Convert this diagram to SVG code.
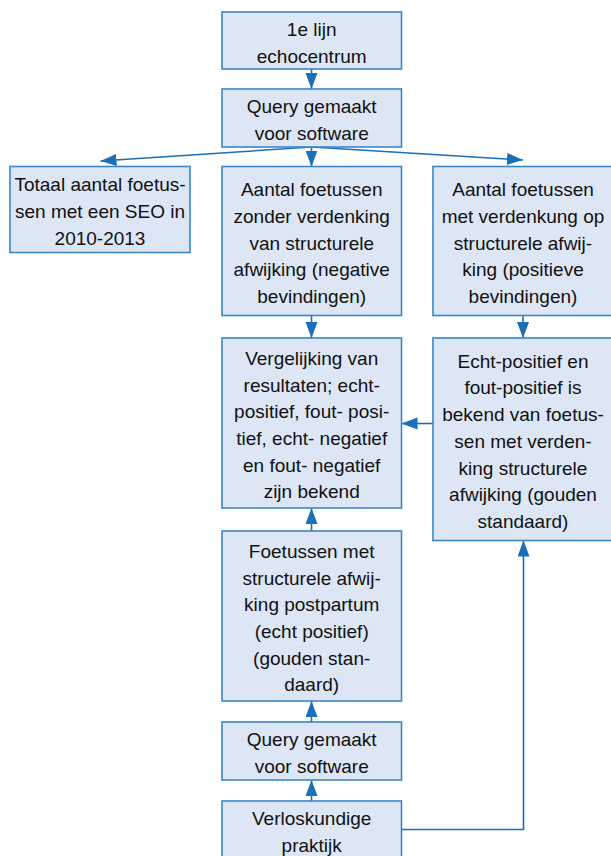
<svg xmlns="http://www.w3.org/2000/svg" width="611" height="856" viewBox="0 0 611 856">
<style>
.box{fill:#dce6f5;stroke:#3a86c8;stroke-width:1.6}
.t{font-family:"Liberation Sans",Arial,sans-serif;font-size:19px;fill:#111111;text-anchor:middle}
.c{fill:none;stroke:#1b6fb7;stroke-width:1.6}
</style>
<defs>
<marker id="ah" markerUnits="userSpaceOnUse" markerWidth="17" markerHeight="13" refX="16" refY="6" orient="auto">
<path d="M0,0 L16,6 L0,12 Z" fill="#1b6fb7"/>
</marker>
</defs>
<rect width="611" height="856" fill="#ffffff"/>
<g id="connectors">
<line class="c" x1="311.5" y1="69" x2="311.5" y2="89" marker-end="url(#ah)"/>
<line class="c" x1="311.5" y1="147" x2="100.5" y2="161" marker-end="url(#ah)"/>
<line class="c" x1="311.5" y1="147" x2="523" y2="160" marker-end="url(#ah)"/>
<line class="c" x1="311.5" y1="147" x2="311.5" y2="166.5" marker-end="url(#ah)"/>
<line class="c" x1="311.5" y1="315.5" x2="311.5" y2="338" marker-end="url(#ah)"/>
<line class="c" x1="523" y1="315.5" x2="523" y2="338" marker-end="url(#ah)"/>
<line class="c" x1="433" y1="423.5" x2="401.5" y2="423.5" marker-end="url(#ah)"/>
<line class="c" x1="311.5" y1="531" x2="311.5" y2="508" marker-end="url(#ah)"/>
<line class="c" x1="311.5" y1="722" x2="311.5" y2="701" marker-end="url(#ah)"/>
<line class="c" x1="311.5" y1="801" x2="311.5" y2="780" marker-end="url(#ah)"/>
<path class="c" d="M401.5,829.5 H523.5 V540.5" marker-end="url(#ah)"/>
</g>
<g id="n1">
<rect class="box" x="222" y="12" width="179.5" height="57"/>
<text class="t" x="311.7" y="36.3">1e lijn</text>
<text class="t" x="311.7" y="63">echocentrum</text>
</g>
<g id="n2">
<rect class="box" x="222" y="89" width="179.5" height="58"/>
<text class="t" x="311.7" y="113.2">Query gemaakt</text>
<text class="t" x="311.7" y="139.9">voor software</text>
</g>
<g id="n3">
<rect class="box" x="10" y="166.5" width="180" height="86"/>
<text class="t" x="100" y="191.3">Totaal aantal foetus-</text>
<text class="t" x="100" y="218">sen met een SEO in</text>
<text class="t" x="100" y="244.7">2010-2013</text>
</g>
<g id="n4">
<rect class="box" x="222" y="166.5" width="179.5" height="149"/>
<text class="t" x="311.7" y="196.1">Aantal foetussen</text>
<text class="t" x="311.7" y="222.8">zonder verdenking</text>
<text class="t" x="311.7" y="249.5">van structurele</text>
<text class="t" x="311.7" y="276.2">afwijking (negative</text>
<text class="t" x="311.7" y="302.9">bevindingen)</text>
</g>
<g id="n5">
<rect class="box" x="433" y="166.5" width="180" height="149"/>
<text class="t" x="523" y="196.1">Aantal foetussen</text>
<text class="t" x="523" y="222.8">met verdenkung op</text>
<text class="t" x="523" y="249.5">structurele afwij-</text>
<text class="t" x="523" y="276.2">king (positieve</text>
<text class="t" x="523" y="302.9">bevindingen)</text>
</g>
<g id="n6">
<rect class="box" x="222" y="338" width="179.5" height="170"/>
<text class="t" x="311.7" y="364.8">Vergelijking van</text>
<text class="t" x="311.7" y="391.5">resultaten; echt-</text>
<text class="t" x="311.7" y="418.2">positief, fout- posi-</text>
<text class="t" x="311.7" y="444.9">tief, echt- negatief</text>
<text class="t" x="311.7" y="471.6">en fout- negatief</text>
<text class="t" x="311.7" y="498.3">zijn bekend</text>
</g>
<g id="n7">
<rect class="box" x="433" y="338" width="180" height="202.5"/>
<text class="t" x="523" y="367.7">Echt-positief en</text>
<text class="t" x="523" y="394.4">fout-positief is</text>
<text class="t" x="523" y="421.1">bekend van foetus-</text>
<text class="t" x="523" y="447.8">sen met verden-</text>
<text class="t" x="523" y="474.5">king structurele</text>
<text class="t" x="523" y="501.2">afwijking (gouden</text>
<text class="t" x="523" y="527.9">standaard)</text>
</g>
<g id="n8">
<rect class="box" x="222" y="531" width="179.5" height="170"/>
<text class="t" x="311.7" y="557.8">Foetussen met</text>
<text class="t" x="311.7" y="584.5">structurele afwij-</text>
<text class="t" x="311.7" y="611.2">king postpartum</text>
<text class="t" x="311.7" y="637.9">(echt positief)</text>
<text class="t" x="311.7" y="664.6">(gouden stan-</text>
<text class="t" x="311.7" y="691.3">daard)</text>
</g>
<g id="n9">
<rect class="box" x="222" y="722" width="179.5" height="58"/>
<text class="t" x="311.7" y="746.2">Query gemaakt</text>
<text class="t" x="311.7" y="772.9">voor software</text>
</g>
<g id="n10">
<rect class="box" x="222" y="801" width="179.5" height="58"/>
<text class="t" x="311.7" y="825.2">Verloskundige</text>
<text class="t" x="311.7" y="851.9">praktijk</text>
</g>
</svg>
